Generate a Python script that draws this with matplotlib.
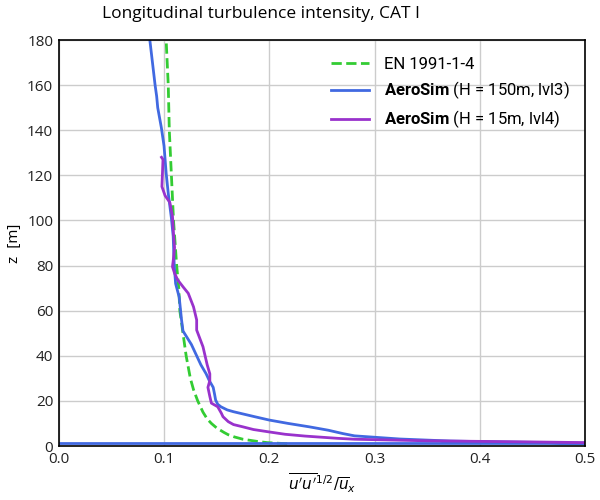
import numpy as np
import matplotlib
matplotlib.use('Agg')
import matplotlib.pyplot as plt

# EN 1991-1-4 profile, CAT I
z_en = [1, 1.5, 2, 3, 4, 5, 6, 8, 10, 12, 15, 20, 25, 30, 40, 50, 60, 70, 80,
        100, 120, 140, 160, 180]
iu_en = [0.217, 0.198, 0.189, 0.175, 0.167, 0.161, 0.157, 0.150, 0.145, 0.141,
         0.137, 0.132, 0.128, 0.125, 0.121, 0.118, 0.115, 0.114, 0.112, 0.109,
         0.107, 0.105, 0.104, 0.102]

# AeroSim H = 150m, lvl3
z_l3 = [180, 170, 160, 155, 150, 141, 133, 121, 112, 101, 93, 80, 72, 66, 56,
        51, 45, 40, 36, 32, 29, 26, 23, 20.4, 18.5, 17.4, 16, 15.2, 13, 11.5,
        10, 8.5, 7, 5.5, 4.5, 3.1, 2.2, 1.8, 1.3, 1.15, 1.1]
iu_l3 = [0.0865, 0.089, 0.0915, 0.093, 0.094, 0.0975, 0.100, 0.102, 0.104,
         0.107, 0.1087, 0.1097, 0.111, 0.1144, 0.1166, 0.118, 0.126, 0.131,
         0.135, 0.140, 0.143, 0.1467, 0.148, 0.149, 0.151, 0.154, 0.160,
         0.166, 0.186, 0.200, 0.218, 0.238, 0.256, 0.270, 0.281, 0.324,
         0.372, 0.419, 0.5, 1.5, 0.0]

# AeroSim H = 15m, lvl4
z_l4 = [128, 127, 121, 115, 111, 108, 102, 94, 88, 82, 79.5, 76.6, 73.6, 70.6,
        67.7, 61.7, 55.9, 51.4, 44, 36, 32, 29, 26, 22, 19, 17.4, 14.5, 13,
        10.8, 9.5, 8.6, 7.3, 6.3, 5.2, 4.4, 3.4, 3.0, 2.3, 1.8, 1.5, 1.3]
iu_l4 = [0.0976, 0.099, 0.0985, 0.098, 0.101, 0.1055, 0.108, 0.109, 0.110,
         0.1087, 0.108, 0.110, 0.113, 0.118, 0.123, 0.128, 0.131, 0.131,
         0.137, 0.141, 0.1435, 0.1435, 0.1417, 0.1435, 0.145, 0.151, 0.1545,
         0.156, 0.161, 0.166, 0.174, 0.185, 0.199, 0.215, 0.234, 0.265, 0.281,
         0.35, 0.45, 0.5, 0.8]

plt.rcParams['font.family'] = ['Open Sans', 'DejaVu Sans']
# bold "AeroSim" in the legend is Roboto
plt.rcParams['mathtext.fontset'] = 'custom'
plt.rcParams['mathtext.bf'] = 'Roboto:bold'
plt.rcParams['mathtext.rm'] = 'Roboto'

fig = plt.figure(figsize=(6, 5), dpi=100)
ax = fig.add_axes([0.098, 0.108, 0.877, 0.812])

ax.plot(iu_en, z_en, '--', color='#33cc33', lw=2, label='EN 1991-1-4')
ax.plot(iu_l3, z_l3, color='#4169e1', lw=2,
        label=r'$\mathbf{AeroSim}$ (H = 150m, lvl3)')
ax.plot(iu_l4, z_l4, color='#9932cc', lw=2,
        label=r'$\mathbf{AeroSim}$ (H = 15m, lvl4)')

ax.set_xlim(0, 0.5)
ax.set_ylim(0, 180)
ax.set_xticks(np.arange(0, 0.51, 0.1))
ax.set_yticks(np.arange(0, 181, 20))
ax.grid(True, color='#cccccc', lw=1)
ax.set_axisbelow(True)
ax.tick_params(length=0, labelsize=11, colors='#222222', pad=4)
for s in ax.spines.values():
    s.set_color('black')
    s.set_linewidth(1.2)

ax.set_xlabel(r"$\overline{u^{\prime}u^{\prime}}^{1/2}/\overline{u}_x$",
              fontsize=11, math_fontfamily='dejavusans')
ax.set_ylabel('z  [m]', fontsize=11)
fig.text(0.435, 0.972, 'Longitudinal turbulence intensity, CAT I',
         ha='center', va='center', fontsize=12.5)

leg = ax.legend(loc='upper right', frameon=False,
                prop={'family': 'Roboto', 'size': 12}, handlelength=2.3,
                handletextpad=0.9, labelspacing=0.45,
                bbox_to_anchor=(1.0, 0.995))

fig.savefig('out.png', dpi=100)
